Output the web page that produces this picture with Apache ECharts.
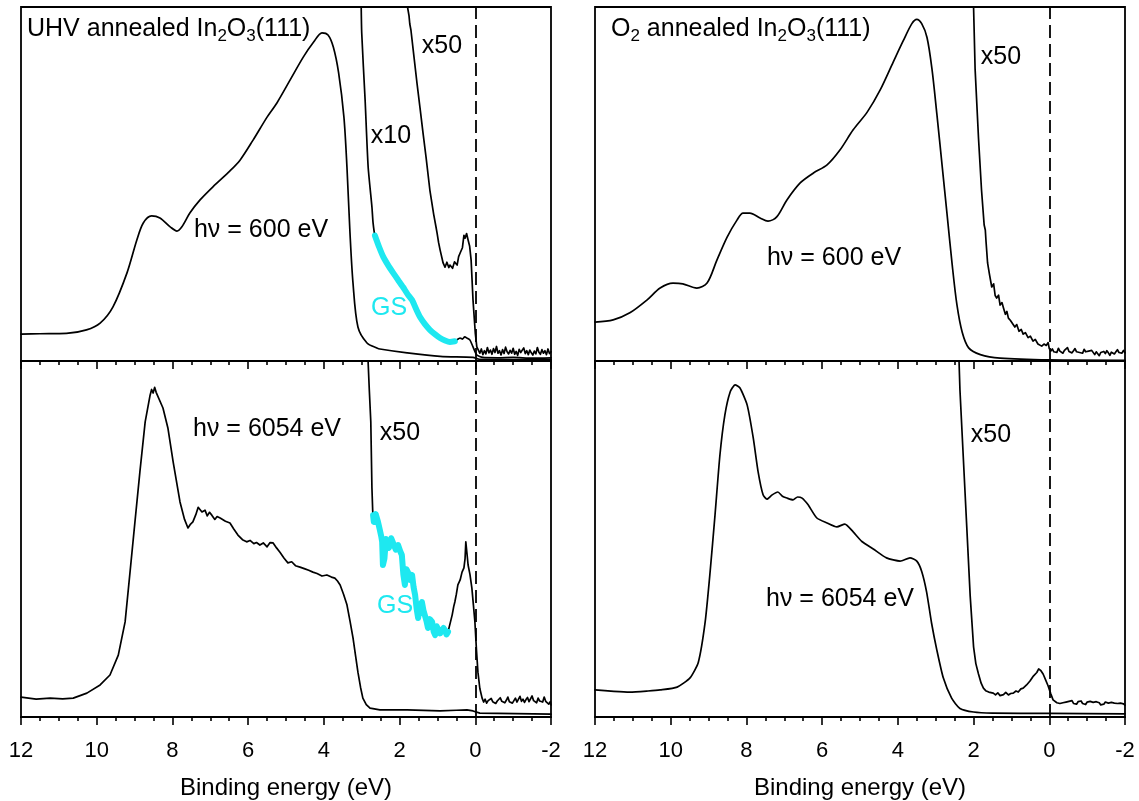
<!DOCTYPE html>
<html>
<head>
<meta charset="utf-8">
<script src="https://cdn.jsdelivr.net/npm/echarts@6/dist/echarts.min.js"></script>
<style>
html,body{margin:0;padding:0;background:#fff;}
#chart{width:1139px;height:801px;}
</style>
</head>
<body>
<div id="chart"></div>
<script>
// ---------- Data: [binding energy (eV), intensity (% of panel height)] ----------
const xTickValues = [12, 10, 8, 6, 4, 2, 0, -2];
const xAxisTitle = 'Binding energy (eV)';

// UHV annealed, hv = 600 eV
const uhv600Main = [[12,7.6],[11.5,7.7],[10.8,7.8],[10.27,8.8],[9.91,10.7],[9.57,15.3],[9.2,24.9],[8.94,34.2],[8.77,39.0],[8.55,41.0],[8.33,40.4],[8.06,37.9],[7.88,36.7],[7.75,37.9],[7.54,41.8],[7.27,45.5],[6.93,49.2],[6.48,53.7],[6.21,56.8],[5.87,62.4],[5.5,68.9],[5.24,72.9],[4.89,79.4],[4.54,85.9],[4.27,90.1],[4.05,92.7],[3.89,92.1],[3.75,88.7],[3.61,81.4],[3.47,68.9],[3.39,54.8],[3.31,36.2],[3.23,22.0],[3.1,9.6],[2.86,5.1],[2.6,3.7],[2.52,3.4],[1.8,2.3],[0.93,1.3],[0.06,1.0],[-0.1,0.5],[-2,0.4]];
const uhv600x10 = [[3.02,105],[3.0,92.7],[2.91,73.7],[2.83,54.8],[2.73,43.5],[2.7,39.0],[2.65,35.4],[2.54,32.2],[2.43,29.4],[2.3,27.0],[2.17,24.9],[2.04,22.9],[1.91,20.9],[1.79,18.9],[1.67,17.2],[1.56,14.6],[1.46,12.4],[1.33,10.4],[1.2,8.8],[1.06,7.5],[0.93,6.5],[0.8,5.8],[0.67,5.4],[0.54,5.6],[0.4,6.5],[0.34,6.2],[0.28,6.8],[0.21,6.4],[0.14,5.9],[0.06,4.0],[-0.04,1.7],[-0.2,1.0],[-0.6,0.9],[-1.0,1.0],[-1.5,0.8],[-2,0.9]];
const uhv600GsRange = [0.54, 2.65];
const uhv600x50 = [[1.82,105],[1.79,100],[1.75,97.5],[1.73,95.2],[1.7,93.5],[1.62,86],[1.54,78.5],[1.46,71.5],[1.38,64.4],[1.3,57.5],[1.2,48.3],[1.1,41.5],[1.04,38.0],[1.01,36.2],[0.97,33.5],[0.93,31.4],[0.85,27.7],[0.8,26.5],[0.75,27.9],[0.7,26.4],[0.67,27.1],[0.6,26.2],[0.55,28.0],[0.48,27.1],[0.44,29.5],[0.4,30.5],[0.34,32.0],[0.3,35.5],[0.27,34.7],[0.23,36.0],[0.19,34.2],[0.15,32.5],[0.11,28.5],[0.06,17.2],[0.0,7.9],[-0.04,4.0],[-0.08,3.6],[-0.12,2.2],[-0.16,3.4],[-0.2,1.8],[-0.24,2.9],[-0.28,2.0],[-0.32,3.8],[-0.36,2.3],[-0.4,3.1],[-0.44,1.9],[-0.48,3.5],[-0.52,2.4],[-0.56,4.1],[-0.6,2.2],[-0.64,2.9],[-0.68,1.7],[-0.72,3.2],[-0.76,2.1],[-0.8,3.9],[-0.84,2.6],[-0.88,2.0],[-0.92,3.0],[-0.96,2.2],[-1.0,3.6],[-1.04,1.9],[-1.08,2.7],[-1.12,1.6],[-1.16,3.3],[-1.2,2.4],[-1.24,2.0],[-1.28,3.7],[-1.32,2.1],[-1.36,2.9],[-1.4,1.8],[-1.44,3.1],[-1.48,2.3],[-1.52,1.7],[-1.56,2.8],[-1.6,2.0],[-1.64,3.8],[-1.68,2.5],[-1.72,1.9],[-1.76,3.2],[-1.8,2.2],[-1.84,2.9],[-1.88,1.8],[-1.92,3.4],[-1.96,2.1],[-2.0,2.6]];

// UHV annealed, hv = 6054 eV
const uhv6054Main = [[12,5.6],[11.6,5.0],[11.23,5.3],[10.9,5.1],[10.62,5.3],[10.26,6.7],[9.91,9.0],[9.65,11.8],[9.43,17.4],[9.25,26.7],[9.12,40.7],[8.99,54.8],[8.86,68.8],[8.72,82.9],[8.59,90.4],[8.55,92.0],[8.51,91.0],[8.47,92.6],[8.43,91.2],[8.38,91.0],[8.25,86.8],[8.12,81.2],[7.98,71.6],[7.8,60.4],[7.68,55.5],[7.59,53.1],[7.52,54.2],[7.46,54.8],[7.38,56.9],[7.32,58.9],[7.27,58.7],[7.22,57.6],[7.14,58.1],[7.08,56.5],[7.02,57.5],[6.96,56.7],[6.88,55.5],[6.82,56.3],[6.74,55.9],[6.6,55.0],[6.48,54.5],[6.38,52.8],[6.27,51.1],[6.15,49.8],[6.04,49.2],[5.95,49.6],[5.85,48.7],[5.78,49.0],[5.69,48.3],[5.6,48.9],[5.5,47.8],[5.42,49.0],[5.34,48.9],[5.25,47.5],[5.16,46.3],[5.05,44.6],[4.95,43.3],[4.85,43.6],[4.75,42.5],[4.63,42.1],[4.5,41.6],[4.4,41.2],[4.29,40.7],[4.18,40.3],[4.05,39.6],[3.92,39.9],[3.8,39.3],[3.71,39.0],[3.64,38.2],[3.57,37.1],[3.48,34.5],[3.39,31.5],[3.31,27.0],[3.23,22.2],[3.16,17.0],[3.1,12.6],[3.03,8.3],[2.97,5.3],[2.88,3.5],[2.78,2.5],[2.52,2.0],[1.8,2.0],[0.93,1.7],[0.5,1.9],[0.22,2.0],[0.06,1.7],[-0.12,1.1],[-2,0.8]];
const uhv6054x50 = [[2.84,102],[2.8,92],[2.76,82.9],[2.73,64.3],[2.71,58],[2.7,56.7],[2.68,54.8],[2.63,57.0],[2.57,54.8],[2.52,52.5],[2.48,50.5],[2.46,49.2],[2.44,42.7],[2.4,44.5],[2.36,50.0],[2.33,49.2],[2.28,47.5],[2.22,50.2],[2.17,49.7],[2.1,47.0],[2.04,48.3],[1.98,46.5],[1.94,45.5],[1.9,40.0],[1.86,37.1],[1.82,41.5],[1.78,40.7],[1.72,38.5],[1.67,39.9],[1.63,36.5],[1.59,34.3],[1.55,30.5],[1.51,27.8],[1.46,31.0],[1.41,32.3],[1.37,30.0],[1.33,29.5],[1.29,27.0],[1.25,25.0],[1.2,27.5],[1.14,26.7],[1.1,24.0],[1.06,23.0],[1.02,25.5],[0.98,25.8],[0.93,23.5],[0.88,23.0],[0.84,25.0],[0.8,24.4],[0.76,23.2],[0.72,23.9],[0.66,26.5],[0.61,28.7],[0.57,31.0],[0.54,32.3],[0.5,34.5],[0.46,37.1],[0.4,38.5],[0.35,40.7],[0.3,41.9],[0.27,44.5],[0.25,49.2],[0.22,46.0],[0.19,42.7],[0.14,40.0],[0.09,36.2],[0.05,31.5],[0.01,26.7],[-0.03,19.0],[-0.07,12.6],[-0.12,8.0],[-0.18,5.3],[-0.22,4.2],[-0.26,5.0],[-0.3,3.9],[-0.34,4.6],[-0.38,4.1],[-0.42,5.2],[-0.46,4.3],[-0.5,4.8],[-0.54,3.8],[-0.58,4.5],[-0.62,4.1],[-0.66,5.4],[-0.7,4.4],[-0.74,4.9],[-0.78,4.0],[-0.82,4.7],[-0.86,5.6],[-0.9,4.3],[-0.94,4.8],[-0.98,3.9],[-1.02,4.6],[-1.06,5.3],[-1.1,4.2],[-1.14,4.7],[-1.18,5.8],[-1.22,4.4],[-1.26,5.0],[-1.3,4.1],[-1.34,4.9],[-1.38,5.5],[-1.42,4.3],[-1.46,4.8],[-1.5,5.9],[-1.54,4.6],[-1.58,5.1],[-1.62,4.0],[-1.66,5.3],[-1.7,4.5],[-1.74,5.0],[-1.78,4.2],[-1.82,5.6],[-1.86,4.4],[-1.9,4.9],[-1.94,3.6],[-1.98,4.3],[-2.0,3.4]];
const uhv6054GsRange = [0.72, 2.70];

// O2 annealed, hv = 600 eV
const o2600Main = [[12,11.0],[11.52,11.6],[11.08,13.6],[10.63,17.2],[10.28,20.6],[9.94,22.0],[9.68,21.8],[9.31,20.6],[9.04,22.0],[8.78,28.5],[8.51,35.0],[8.25,39.8],[8.09,41.8],[7.91,41.8],[7.64,40.4],[7.43,39.5],[7.2,40.7],[6.93,45.5],[6.58,50.3],[6.23,53.1],[5.87,55.4],[5.53,59.6],[5.18,65.3],[4.81,70.3],[4.47,76.5],[4.12,84.5],[3.86,90.4],[3.63,95.3],[3.5,96.5],[3.37,95.3],[3.23,91.4],[3.1,82.6],[2.97,69.8],[2.83,55.1],[2.7,41.4],[2.57,27.7],[2.44,15.9],[2.3,8.1],[2.13,3.7],[1.82,1.8],[1.3,0.8],[0,0.3],[-2,0.2]];
const o2600x50 = [[2.02,105],[2.0,100],[1.96,82.6],[1.87,63.0],[1.79,48.3],[1.72,38.4],[1.69,37.0],[1.67,33.6],[1.63,27.7],[1.58,24.5],[1.52,20.9],[1.47,21.8],[1.43,18.5],[1.39,17.8],[1.34,18.6],[1.3,15.8],[1.25,16.5],[1.21,15.0],[1.16,13.2],[1.12,14.0],[1.08,12.1],[1.03,11.5],[0.98,11.9],[0.91,9.6],[0.86,10.3],[0.8,8.4],[0.74,8.9],[0.69,7.6],[0.63,8.0],[0.56,6.6],[0.5,7.0],[0.43,5.6],[0.37,6.1],[0.3,4.8],[0.25,5.3],[0.2,4.2],[0.14,4.8],[0.08,4.4],[0.03,5.2],[0.0,3.5],[-0.04,2.8],[-0.08,3.4],[-0.12,2.6],[-0.16,3.1],[-0.2,2.4],[-0.24,3.6],[-0.28,2.8],[-0.32,3.3],[-0.36,2.2],[-0.4,3.0],[-0.44,2.5],[-0.48,3.8],[-0.52,2.7],[-0.56,3.2],[-0.6,2.3],[-0.64,2.9],[-0.68,3.5],[-0.72,2.6],[-0.76,3.1],[-0.8,2.4],[-0.84,2.9],[-0.88,2.2],[-0.92,3.3],[-0.96,2.6],[-1.0,2.1],[-1.04,2.8],[-1.08,2.3],[-1.12,3.0],[-1.16,2.5],[-1.2,1.8],[-1.24,2.6],[-1.28,2.2],[-1.32,1.5],[-1.36,2.4],[-1.4,1.9],[-1.44,2.7],[-1.48,2.1],[-1.52,2.9],[-1.56,2.3],[-1.6,1.6],[-1.64,2.5],[-1.68,2.9],[-1.72,2.0],[-1.76,2.6],[-1.8,3.2],[-1.84,2.4],[-1.88,2.8],[-1.92,2.2],[-1.96,3.0],[-2.0,2.3]];

// O2 annealed, hv = 6054 eV
const o26054Main = [[12,7.6],[11.5,7.2],[11.08,7.0],[10.6,7.3],[10.28,7.6],[9.83,8.4],[9.49,11.0],[9.27,15.4],[9.09,26.7],[8.96,40.7],[8.83,56.7],[8.7,73.6],[8.57,84.8],[8.43,91.3],[8.3,93.3],[8.17,92.4],[7.98,87.6],[7.82,78.4],[7.69,68.8],[7.56,62.4],[7.46,61.2],[7.32,62.4],[7.17,63.2],[7.05,62.0],[6.93,61.5],[6.77,61.0],[6.65,61.8],[6.53,61.5],[6.37,59.6],[6.14,55.9],[5.87,54.5],[5.61,53.4],[5.4,54.2],[5.18,52.0],[4.95,49.3],[4.65,47.2],[4.3,44.7],[3.94,43.8],[3.68,44.7],[3.5,43.8],[3.37,40.9],[3.24,35.1],[3.11,26.4],[2.97,18.8],[2.8,11.0],[2.58,5.3],[2.36,2.4],[2.0,1.4],[1.5,1.1],[0,1.0],[-2,0.9]];
const o26054x50 = [[2.39,102],[2.36,91.9],[2.27,72.6],[2.18,53.4],[2.09,34.1],[2.0,19.7],[1.94,15.0],[1.87,12.1],[1.8,9.5],[1.74,8.1],[1.68,7.4],[1.6,7.0],[1.55,7.5],[1.48,6.7],[1.42,6.2],[1.36,6.8],[1.3,6.0],[1.21,6.3],[1.15,6.9],[1.08,6.2],[1.02,6.6],[0.95,6.7],[0.88,7.3],[0.82,7.0],[0.75,7.9],[0.69,8.1],[0.6,9.0],[0.51,10.1],[0.42,11.5],[0.33,12.5],[0.28,13.5],[0.25,13.9],[0.22,13.0],[0.16,12.0],[0.1,10.5],[0.03,8.7],[-0.04,6.5],[-0.1,4.8],[-0.2,4.0],[-0.28,3.8],[-0.32,3.5],[-0.36,4.0],[-0.4,3.6],[-0.44,4.2],[-0.48,3.7],[-0.52,4.4],[-0.56,3.9],[-0.6,4.6],[-0.64,3.8],[-0.68,4.1],[-0.72,3.6],[-0.76,4.3],[-0.8,3.9],[-0.84,4.5],[-0.88,3.8],[-0.92,4.0],[-0.96,3.5],[-1.0,4.2],[-1.04,3.8],[-1.08,4.4],[-1.12,3.9],[-1.16,4.1],[-1.2,3.6],[-1.24,4.3],[-1.28,3.8],[-1.32,4.0],[-1.36,3.4],[-1.4,3.9],[-1.44,3.6],[-1.48,4.2],[-1.52,3.7],[-1.56,3.9],[-1.6,3.5],[-1.64,4.1],[-1.68,3.6],[-1.72,3.9],[-1.76,3.4],[-1.8,3.8],[-1.84,3.3],[-1.88,3.9],[-1.92,3.4],[-1.96,3.7],[-2.0,3.3]];

// ---------- Chart ----------
const FONT = '"Liberation Sans", Arial, Helvetica, sans-serif';
const CYAN = '#1ee8f0';
const chart = echarts.init(document.getElementById('chart'), null, {renderer: 'canvas'});

const grids = [
  {left: 21, top: 7, width: 530, height: 354},   // UHV 600
  {left: 21, top: 361, width: 530, height: 356}, // UHV 6054
  {left: 595, top: 7, width: 530, height: 354},  // O2 600
  {left: 595, top: 361, width: 530, height: 356} // O2 6054
].map(g => Object.assign(g, {show: true, borderColor: '#000', borderWidth: 1.8, backgroundColor: 'transparent', containLabel: false}));

function xAx(gi, labels) {
  return {
    type: 'value', gridIndex: gi, min: xTickValues[xTickValues.length - 1], max: xTickValues[0],
    interval: 2, inverse: true,
    axisLine: {show: true, onZero: false, lineStyle: {color: '#000', width: 1.8}},
    axisTick: {show: true, inside: false, length: 8, lineStyle: {color: '#000', width: 1.6}},
    minorTick: {show: true, splitNumber: 4, length: 4, lineStyle: {color: '#000', width: 1.6}},
    splitLine: {show: false}, minorSplitLine: {show: false},
    axisLabel: {show: labels, color: '#000', fontSize: 22, fontFamily: FONT, margin: 23,
      formatter: v => String(v)}
  };
}
function yAx(gi) { return {type: 'value', gridIndex: gi, min: 0, max: 100, show: false}; }

function line(gi, data, opts) {
  opts = opts || {};
  return Object.assign({
    type: 'line', xAxisIndex: gi, yAxisIndex: gi, data: data,
    symbol: 'none', showSymbol: false, clip: true, animation: false, silent: true,
    lineStyle: {color: opts.color || '#000', width: opts.width || 1.7, join: 'round', cap: 'round'},
    smooth: opts.smooth || false, z: opts.z || 2
  }, opts.extra || {});
}
function inRange(data, r) { return data.filter(p => p[0] >= r[0] - 1e-9 && p[0] <= r[1] + 1e-9); }
function zeroLine() {
  return {markLine: {symbol: ['none', 'none'], silent: true, label: {show: false}, animation: false,
    lineStyle: {color: '#000', width: 1.8, type: [13, 6]}, data: [{xAxis: 0}]}};
}

const series = [
  line(0, uhv600Main, {smooth: 0.3, extra: zeroLine()}),
  line(0, uhv600x10, {smooth: 0.2}),
  line(0, inRange(uhv600x10, uhv600GsRange), {color: CYAN, width: 6, smooth: 0.2, z: 3}),
  line(0, uhv600x50),
  line(1, uhv6054Main, {extra: zeroLine()}),
  line(1, uhv6054x50),
  line(1, inRange(uhv6054x50, uhv6054GsRange), {color: CYAN, width: 6, z: 3}),
  line(2, o2600Main, {smooth: 0.3, extra: zeroLine()}),
  line(2, o2600x50),
  line(3, o26054Main, {smooth: 0.2, extra: zeroLine()}),
  line(3, o26054x50)
];

function txt(x, y, s, color, align) {
  return {type: 'text', x: x, y: y, silent: true, z: 100,
    style: {text: s, fill: color || '#000', fontSize: 25, fontFamily: FONT,
      textAlign: align || 'center', textVerticalAlign: 'middle'}};
}
function titleTxt(x, y, parts) {
  return {type: 'text', x: x, y: y, silent: true, z: 100,
    style: {text: parts, fill: '#000', fontFamily: FONT, textAlign: 'left', textVerticalAlign: 'middle',
      rich: {
        n: {fontSize: 25, lineHeight: 31, fontFamily: FONT, fill: '#000'},
        s: {fontSize: 17, lineHeight: 17, verticalAlign: 'bottom', fontFamily: FONT, fill: '#000'}
      }}};
}

const graphics = [
  titleTxt(27, 29, '{n|UHV annealed In}{s|2}{n|O}{s|3}{n|(111)}'),
  titleTxt(611, 29, '{n|O}{s|2}{n| annealed In}{s|2}{n|O}{s|3}{n|(111)}'),
  txt(442, 46, 'x50'),
  txt(391, 136, 'x10'),
  txt(261, 230, 'h\u03bd = 600 eV'),
  txt(389, 308, 'GS', CYAN),
  txt(267, 429, 'h\u03bd = 6054 eV'),
  txt(400, 433, 'x50'),
  txt(395, 606, 'GS', CYAN),
  txt(1001, 57, 'x50'),
  txt(834, 258, 'h\u03bd = 600 eV'),
  txt(840, 599, 'h\u03bd = 6054 eV'),
  txt(991, 435, 'x50'),
  {type: 'text', x: 286, y: 788, silent: true, style: {text: xAxisTitle, fill: '#000', fontSize: 24, fontFamily: FONT, textAlign: 'center', textVerticalAlign: 'middle'}},
  {type: 'text', x: 860, y: 788, silent: true, style: {text: xAxisTitle, fill: '#000', fontSize: 24, fontFamily: FONT, textAlign: 'center', textVerticalAlign: 'middle'}}
];

chart.setOption({
  animation: false,
  backgroundColor: '#fff',
  grid: grids,
  xAxis: [xAx(0, false), xAx(1, true), xAx(2, false), xAx(3, true)],
  yAxis: [yAx(0), yAx(1), yAx(2), yAx(3)],
  series: series,
  graphic: graphics
});
</script>
</body>
</html>
